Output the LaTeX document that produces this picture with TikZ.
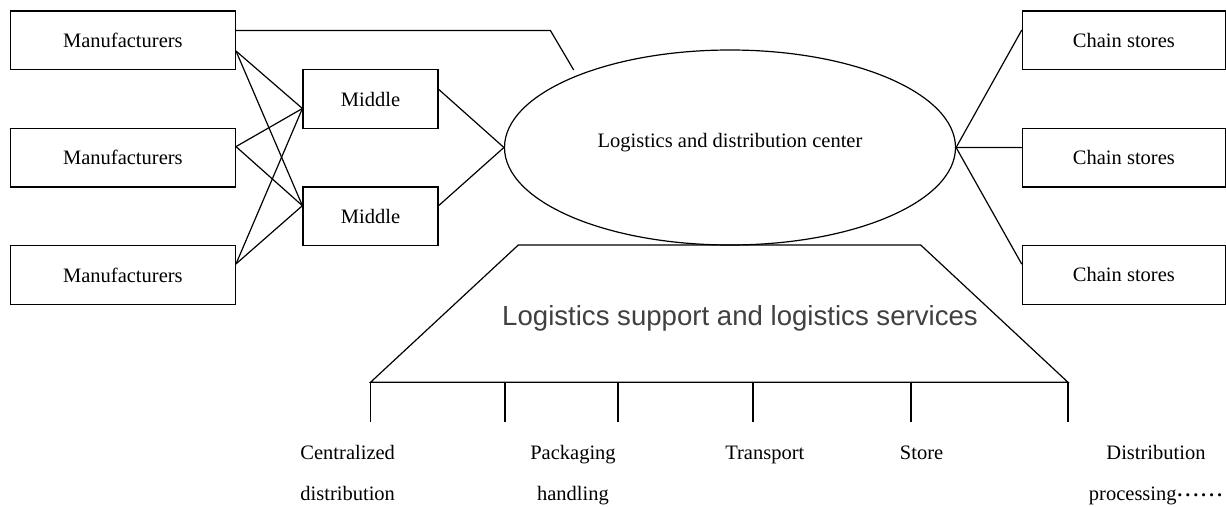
\documentclass[tikz,border=0pt]{standalone}
\usepackage{fontspec}
\setmainfont{Liberation Serif}
\newfontfamily\servfont{Liberation Sans}
\usetikzlibrary{positioning}
\usetikzlibrary{shapes.geometric}
\tikzstyle{maker} = [rectangle, minimum width=225pt, minimum height=58.6pt, text centered, inner sep=0pt, draw=black, line width=1.2pt, font=\fontsize{20.5}{24}\selectfont]
\tikzstyle{middle} = [rectangle, minimum width=135pt, minimum height=58.6pt, text centered, inner sep=0pt, draw=black, line width=1.2pt, font=\fontsize{20.5}{24}\selectfont]
\tikzstyle{store} = [rectangle, minimum width=203pt, minimum height=58.6pt, text centered, inner sep=0pt, draw=black, line width=1.2pt, font=\fontsize{20.5}{24}\selectfont]
\tikzstyle{hub} = [ellipse, minimum width=451pt, minimum height=195pt, inner sep=0pt, draw=black, line width=1.2pt]
\tikzstyle{service} = [inner sep=0pt, text=black!75, font=\servfont\fontsize{27.6}{32}\selectfont]
\tikzstyle{task} = [anchor=base, align=center, inner sep=0pt, font=\fontsize{20.5}{40.5}\selectfont]
\tikzstyle{line} = [line width=1.2pt, line join=miter]
\newcommand{\dotrun}{{\boldmath${\cdot}\mkern1mu{\cdot}\mkern1mu{\cdot}\mkern1mu{\cdot}\mkern1mu{\cdot}\mkern1mu{\cdot}$}}

\begin{document}
\begin{tikzpicture}[x=1pt, y=-1pt, node distance=117.3pt]
\useasboundingbox (0,0) rectangle (1226,506);

	\node (maker1)[maker] at (122.9,40.3) {Manufacturers};

	\node (maker2)[maker, below of=maker1] {Manufacturers};

	\node (maker3)[maker, below of=maker2] {Manufacturers};

	\node (mid1)[middle] at (370.5,99) {Middle};

	\node (mid2)[middle, below of=mid1] {Middle};

	\node (hub)[hub] at (730,147.5) {};
	\node (hubtext)[font=\fontsize{20.5}{24}\selectfont] at ([yshift=4.5pt]hub.center) {Logistics and distribution center};

	\node (store1)[store] at (1123.9,40.3) {Chain stores};

	\node (store2)[store, below of=store1] {Chain stores};

	\node (store3)[store, below of=store2] {Chain stores};

	\coordinate (bend) at (550.4,30.5);
	\coordinate (tip) at (573.7,70);

	\coordinate (topleft) at (518.3,245);
	\coordinate (topright) at (920.7,245);
	\coordinate (baseright) at (1068,382.3);
	\coordinate (baseleft) at (370.5,382.3);

	\node (service)[service] at (740,318.5) {Logistics support and logistics services};

	% two-line labels sit on the baseline of their last line
	\node (job1)[task] at (347.7,500) {Centralized\\distribution};
	\node (job2)[task] at (573,500) {Packaging\\handling};
	\node (job3)[task] at (764.8,459.5) {Transport};
	\node (job4)[task] at (921.6,459.5) {Store};
	\node (job5)[task] at (1156,500) {Distribution\\processing\dotrun};



	\draw [line] ([yshift=9.8pt]maker1.east) -- (bend) -- (tip);

	\draw [line] ([yshift=-10.7pt]maker1.east) -- ([yshift=-9.5pt]mid1.west);
	\draw [line] ([yshift=-10.7pt]maker1.east) -- ([yshift=10.6pt]mid2.west);

	\draw [line] ([yshift=11pt]maker2.east) -- ([yshift=-9.5pt]mid1.west);
	\draw [line] ([yshift=11pt]maker2.east) -- ([yshift=10.6pt]mid2.west);

	\draw [line] ([yshift=11pt]maker3.east) -- ([yshift=-9.5pt]mid1.west);
	\draw [line] ([yshift=11pt]maker3.east) -- ([yshift=10.6pt]mid2.west);

	\draw [line] ([yshift=9.7pt]mid1.east) -- (hub.west);
	\draw [line] ([yshift=10.6pt]mid2.east) -- (hub.west);

	\draw [line] (hub.east) -- ([yshift=10.3pt]store1.west);
	\draw [line] (hub.east) -- ([yshift=10pt]store2.west);
	\draw [line] (hub.east) -- ([yshift=10.7pt]store3.west);

	\draw [line] (baseleft) -- (topleft) -- (topright) -- (baseright) -- cycle;

	\draw [line] (baseleft) -- (370.5,422.3);
	\draw [line] (505,382.3) -- (505,422.3);
	\draw [line] (618,382.3) -- (618,422.3);
	\draw [line] (753,382.3) -- (753,422.3);
	\draw [line] (911,382.3) -- (911,422.3);
	\draw [line] (baseright) -- (1068,422.3);

	\end{tikzpicture}
\end{document}
